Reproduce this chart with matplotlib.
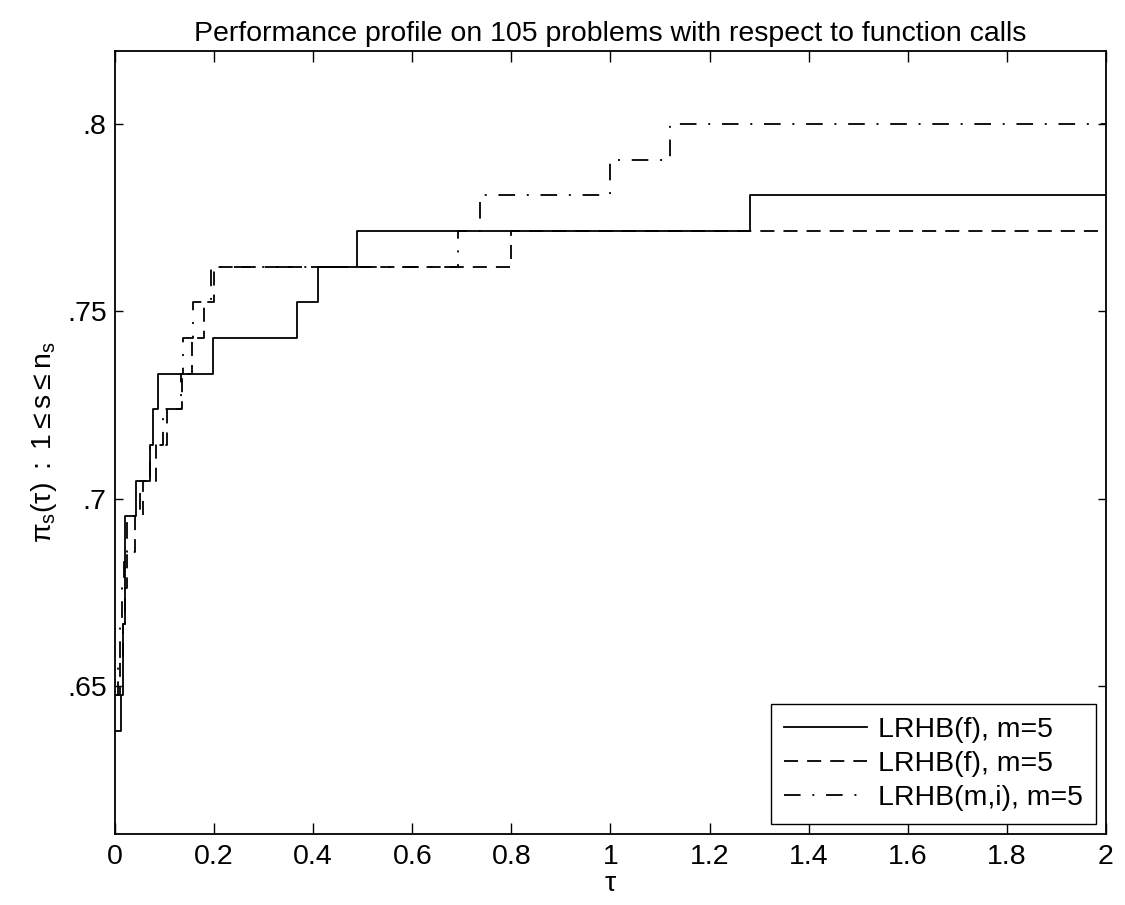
import numpy as np
import matplotlib
matplotlib.use('Agg')
import matplotlib.pyplot as plt

plt.rcParams['font.family'] = ['Liberation Sans', 'DejaVu Sans']
plt.rcParams['mathtext.fontset'] = 'custom'
plt.rcParams['mathtext.rm'] = 'Liberation Sans'
plt.rcParams['mathtext.it'] = 'Liberation Sans'
plt.rcParams['mathtext.sf'] = 'Liberation Sans'

n_problems = 105

# step breakpoints (tau) and number of problems solved from that tau on
tau_solid = [0, 0.013, 0.017, 0.020, 0.042, 0.071, 0.077, 0.087, 0.197, 0.368, 0.41, 0.488, 1.281, 2.0]
solved_solid = [67, 68, 70, 73, 74, 75, 76, 77, 78, 79, 80, 81, 82, 82]

tau_dashed = [0, 0.010, 0.016, 0.020, 0.024, 0.041, 0.056, 0.083, 0.106, 0.136, 0.156, 0.180, 0.200, 0.80, 2.0]
solved_dashed = [68, 69, 70, 71, 72, 73, 74, 75, 76, 77, 78, 79, 80, 81, 81]

tau_dashdot = [0, 0.006, 0.010, 0.014, 0.018, 0.024, 0.050, 0.071, 0.096, 0.133, 0.137, 0.157, 0.194, 0.692, 0.737, 1.0, 1.12, 2.0]
solved_dashdot = [68, 69, 70, 71, 72, 73, 74, 75, 76, 77, 78, 79, 80, 81, 82, 83, 84, 84]

labels = ['LRHB(f), m=5', 'LRHB(f), m=5', 'LRHB(m,i), m=5']

fs = 20.5

fig = plt.figure(figsize=(11.25, 9.05), dpi=100)
ax = fig.add_axes([0.1022, 0.0785, 0.8809, 0.8652])

lw = 1.3
ax.step(tau_solid, np.array(solved_solid) / n_problems, where='post',
        color='k', lw=lw, linestyle='-', label=labels[0])
ax.step(tau_dashed, np.array(solved_dashed) / n_problems, where='post',
        color='k', lw=lw, linestyle=(0, (7.8, 5.0)), label=labels[1])
ax.step(tau_dashdot, np.array(solved_dashdot) / n_problems, where='post',
        color='k', lw=lw, linestyle=(0, (9.2, 6.5, 1.1, 6.5)), label=labels[2])

ax.set_xlim(0, 2)
ax.set_ylim(0.6105, 0.8195)

ax.set_xticks(np.arange(0, 2.01, 0.2))
ax.set_xticklabels(['0', '0.2', '0.4', '0.6', '0.8', '1', '1.2', '1.4', '1.6', '1.8', '2'])
ax.set_yticks([0.65, 0.7, 0.75, 0.8])
ax.set_yticklabels(['.65', '.7', '.75', '.8'])

ax.tick_params(axis='both', direction='in', top=True, right=True, labelsize=fs, width=1)
ax.tick_params(axis='x', length=8, pad=7)
ax.tick_params(axis='y', length=6, pad=6)
for s in ax.spines.values():
    s.set_linewidth(1.3)

ax.set_title('Performance profile on 105 problems with respect to function calls', fontsize=fs, pad=7)
ax.set_xlabel(r'$\tau$', fontsize=fs, labelpad=1)
ax.set_ylabel(r'$\pi_s(\tau)\ :\ 1 \leq s \leq n_s$', fontsize=fs, labelpad=6)

leg = ax.legend(loc='lower right', fontsize=fs, handlelength=2.9, handletextpad=0.4,
                fancybox=False, edgecolor='k', framealpha=1, borderaxespad=0.35,
                labelspacing=0.28, borderpad=0.45)
leg.get_frame().set_linewidth(1)

fig.savefig('out.png', dpi=100)
